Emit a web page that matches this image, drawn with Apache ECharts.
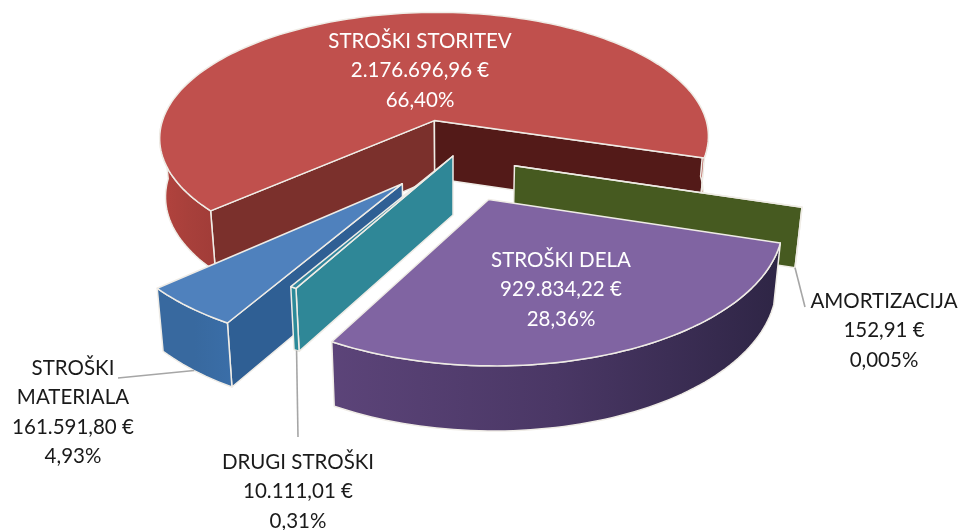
<!DOCTYPE html>
<html><head><meta charset="utf-8">
<style>html,body{margin:0;padding:0;background:#fff}#c{width:960px;height:530px}</style>
<script src="https://cdn.jsdelivr.net/npm/echarts@6/dist/echarts.min.js"></script>
</head><body><div id="c"></div>
<script>
// data, in the clockwise order of the pie
var categories = ['STROŠKI STORITEV', 'AMORTIZACIJA', 'STROŠKI DELA', 'DRUGI STROŠKI', 'STROŠKI MATERIALA'];
var values = [2176696.96, 152.91, 929834.22, 10111.01, 161591.80];
var valueLabels = ['2.176.696,96 €', '152,91 €', '929.834,22 €', '10.111,01 €', '161.591,80 €'];
var percentLabels = ['66,40%', '0,005%', '28,36%', '0,31%', '4,93%'];
var nameLines = [['STROŠKI STORITEV'], ['AMORTIZACIJA'], ['STROŠKI DELA'], ['DRUGI STROŠKI'], ['STROŠKI', 'MATERIALA']];

// projection and style
var explode = [0.30, 0.225, 0.315, 0.0, 0.27];
var nudge = [[-1, 1], [0, 0], [1, 2], [0, -1], [-1, -2]];
var radiusScale = [1, 1, 0.985, 1, 1];
var paintRank = [0, 1, 4, 3, 2];
var startAngle = 138, CX = 453, CY = 157, R = 283, TILT = 0.47, PERSP = 0.14, DEPTH = 59, TAPER = 0.98;
var topColor = ['#C0504D', '#4F6228', '#8064A2', '#31859C', '#4F81BD'];
var outerColor = [
  ['#b3433e', '#a8403b', '#a13c38'],
  ['#4a5c20', '#4a5c20', '#4a5c20'],
  ['#5c4479', '#4a3765', '#2e2545'],
  ['#2c8a99', '#2c8a99', '#2c8a99'],
  ['#38699f', '#38699f', '#3a6ea8']
];
var startFace = ['#7b302c', '#465a20', '#4d3869', '#2f8797', '#2f5f94'];
var endFace = ['#531a18', '#465a20', '#4d3869', '#2f8797', '#2f5f94'];
var edge = '#efece6', leader = '#a6a6a6';
var labelCenter = [[420, 41], [884, 301], [561, 260], [298, 462], [73, 368]];
var labelColor = ['#fff', '#1a1a1a', '#fff', '#1a1a1a', '#1a1a1a'];
var leaderEnd = [null, [805, 307], null, [298, 437], [118, 378]];
var FONT = 20.5, LINE = 29.5;

var total = values.reduce(function (a, b) { return a + b; }, 0);
var rad = Math.PI / 180;
var cumulative = [];
values.reduce(function (a, v, i) { cumulative[i] = a; return a + v; }, 0);

function project(i, theta, r, z, mid) {
  var t = explode[i], rr = r * radiusScale[i];
  var X = rr * Math.cos(theta) + t * Math.cos(mid);
  var Y = rr * Math.sin(theta) + t * Math.sin(mid);
  var s = 1 / (1 - PERSP * Y);
  var x = X * R * s, y = Y * R * TILT * s;
  if (z) { y += DEPTH * Math.sqrt(s); x *= TAPER; }
  return [CX + x + nudge[i][0], CY + y + nudge[i][1]];
}
function horiz(stops) {
  return { type: 'linear', x: 0, y: 0, x2: 1, y2: 0, colorStops: [
    { offset: 0, color: stops[0] }, { offset: 0.5, color: stops[1] }, { offset: 1, color: stops[2] }] };
}
function area(p) {
  var a = 0;
  for (var i = 0; i < p.length; i++) { var q = p[(i + 1) % p.length]; a += p[i][0] * q[1] - q[0] * p[i][1]; }
  return a;
}
function poly(points, fill, z2, lw) {
  return { type: 'polygon', z2: z2, shape: { points: points },
    style: { fill: fill, stroke: edge, lineWidth: lw === undefined ? 1.5 : lw, lineJoin: 'round' } };
}

function renderItem(params, api) {
  var i = params.dataIndex, value = api.value(0);
  var a0 = startAngle + cumulative[i] / total * 360, a1 = a0 + value / total * 360;
  var t0 = a0 * rad, t1 = a1 * rad, mid = (t0 + t1) / 2;
  var base = paintRank[i] * 10, kids = [];
  var arc = [], steps = Math.max(2, Math.ceil((a1 - a0) / 1.5));
  for (var k = 0; k <= steps; k++) arc.push(t0 + (t1 - t0) * k / steps);
  var apexT = project(i, 0, 0, 0, mid), apexB = project(i, 0, 0, 1, mid);

  // radial faces (back-face culled)
  var s0 = [apexT, project(i, t0, 1, 0, mid), project(i, t0, 1, 1, mid), apexB];
  var s1 = [apexT, apexB, project(i, t1, 1, 1, mid), project(i, t1, 1, 0, mid)];
  if (area(s0) < 0) kids.push(poly(s0, startFace[i], base + 1));
  if (area(s1) < 0) kids.push(poly(s1, endFace[i], base + 2));

  // outer wall: only the part turned to the viewer
  var run = [];
  function flush() {
    if (run.length > 1) {
      var pts = run.map(function (a) { return project(i, a, 1, 0, mid); })
        .concat(run.slice().reverse().map(function (a) { return project(i, a, 1, 1, mid); }));
      kids.push(poly(pts, horiz(outerColor[i]), base + 3));
    }
    run = [];
  }
  arc.forEach(function (a) { if (Math.sin(a) > -0.02) run.push(a); else flush(); });
  flush();

  // top
  var top = [apexT].concat(arc.map(function (a) { return project(i, a, 1, 0, mid); }));
  kids.push(poly(top, topColor[i], base + 5));

  // leader line
  if (leaderEnd[i]) {
    var from = project(i, (t0 + t1) / 2, 1, 1, mid);
    kids.push({ type: 'line', z2: 60, shape: { x1: from[0], y1: from[1], x2: leaderEnd[i][0], y2: leaderEnd[i][1] },
      style: { stroke: leader, lineWidth: 1.6 } });
  }
  // label
  var lines = nameLines[i].concat([valueLabels[i], percentLabels[i]]);
  lines.forEach(function (txt, n) {
    kids.push({ type: 'text', z2: 100, style: {
      x: labelCenter[i][0], y: labelCenter[i][1] + n * LINE, text: txt, fill: labelColor[i],
      font: FONT + 'px Lato, Carlito, "Open Sans", sans-serif', textAlign: 'center', textVerticalAlign: 'middle' } });
  });
  return { type: 'group', children: kids };
}

var chart = echarts.init(document.getElementById('c'), null, { renderer: 'canvas' });
chart.setOption({
  animation: false,
  backgroundColor: '#fff',
  series: [{
    type: 'custom', coordinateSystem: 'none', silent: true,
    renderItem: renderItem,
    data: values.map(function (v, i) { return { name: categories[i], value: [v] }; })
  }]
});
</script></body></html>
